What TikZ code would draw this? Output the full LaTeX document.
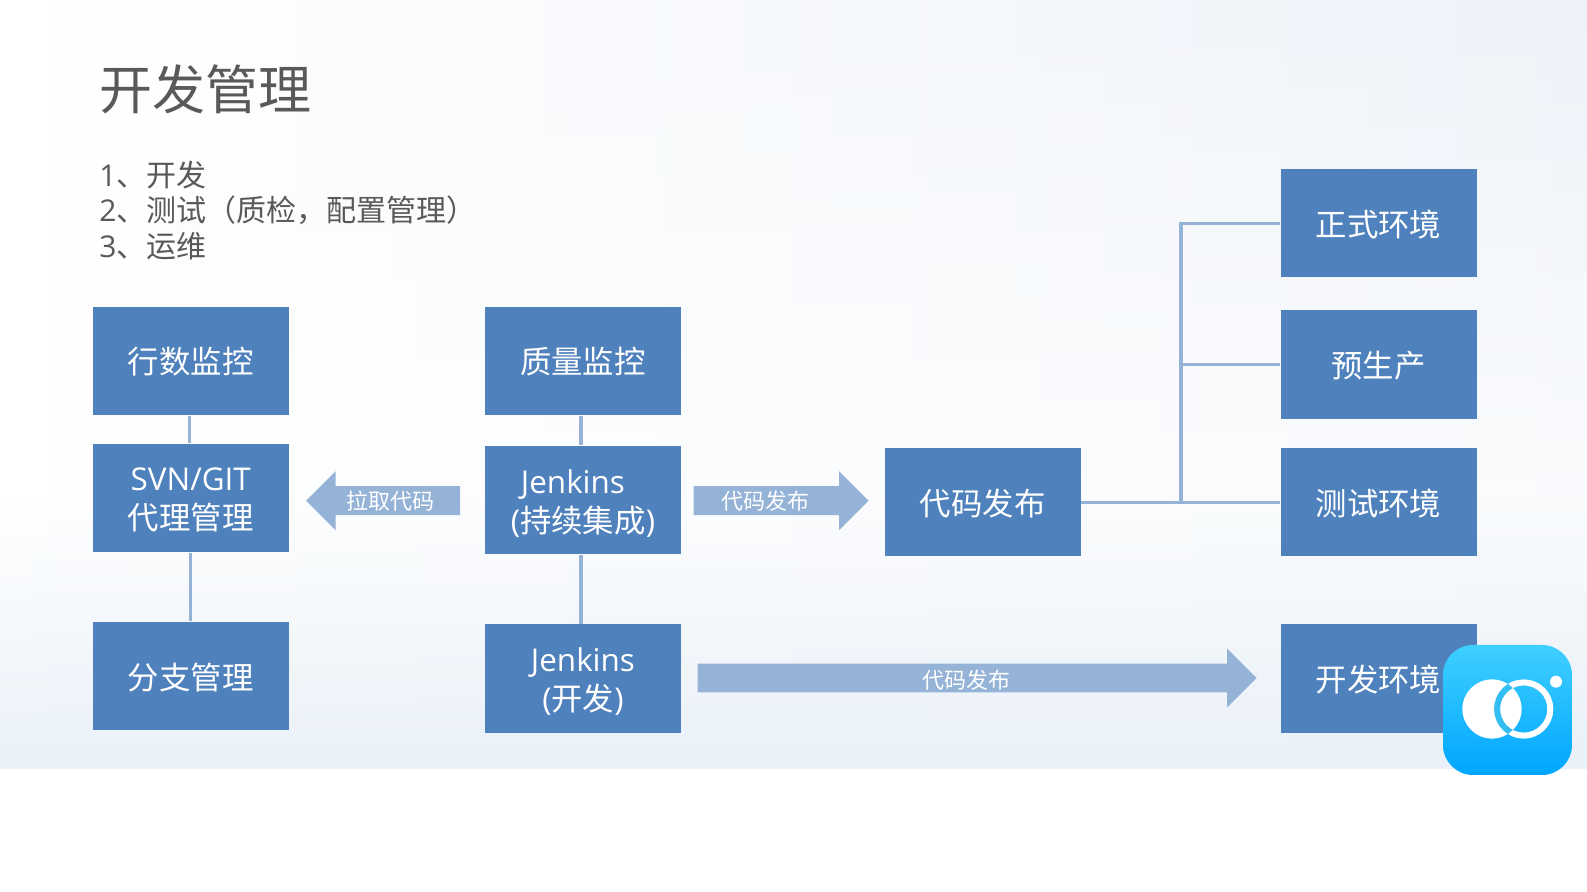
\documentclass[tikz,border=0pt]{standalone}
\usepackage{fontspec}
\setmainfont{Open Sans}
\newfontfamily\cjk{Noto Sans CJK SC}
\usetikzlibrary{shapes.arrows,fadings}
\definecolor{boxblue}{HTML}{4F81BD}
\definecolor{lineblue}{HTML}{95B3D7}
\definecolor{greytext}{HTML}{595959}
\definecolor{bgright}{HTML}{EDF2F9}
\definecolor{bgbottom}{HTML}{EAF1F9}
\renewcommand{\arraystretch}{1.03}
\newcommand{\twolines}[3]{\raisebox{#1}[\height][\depth]{\begin{tabular}{@{}c@{}}#2\\#3\end{tabular}}}
\begin{document}
\begin{tikzpicture}[x=0.5pt, y=-0.5pt,
    main/.style = {draw=none, fill=boxblue, text=white, minimum width=98pt, minimum height=54.3pt, inner sep=0pt, align=center, font=\fontsize{15.7}{19}\selectfont, execute at begin node=\rule{0pt}{14.2pt}},
    twoline/.style = {execute at begin node={}},
    link/.style = {draw=lineblue, line width=1.6pt},
    bigarrow/.style = {single arrow, fill=lineblue, text=white, inner sep=0pt, minimum width=29.5pt, single arrow head extend=5.5pt, font=\fontsize{11}{13}\selectfont\cjk}]
    % Sfondo
    \useasboundingbox (0,0) rectangle (1587,892);
    \shade[left color=white, right color=bgright] (-10,-10) rectangle (1597,769);
    \fill[white, opacity=0.7, path fading=north] (-10,-10) rectangle (1597,500);
    \fill[white, opacity=0.7] (-10,500) rectangle (1597,769);
    \fill[bgbottom, path fading=north] (-10,500) rectangle (1597,769);

    % Titolo ed elenco
    \node[text=greytext, anchor=west, inner sep=0pt, font=\fontsize{26.5}{32}\selectfont\cjk] (title) at (99,89) {开发管理};
    \node[text=greytext, anchor=west, inner sep=0pt, align=left, font=\fontsize{15}{17.7}\selectfont] (list) at (99,210.5) {1{\cjk 、开发}\\2{\cjk 、测试（质检，配置管理）}\\3{\cjk 、运维}};

    % Disegna i nodi
    \node[main] (hangshu) at (190.75,361) {\cjk 行数监控};
    \node[main, twoline] (svn) [below of=hangshu, node distance=68.5pt] {\twolines{-2pt}{SVN/GIT}{\cjk 代理管理}};
    \node[main] (branch) [below of=svn, node distance=89.1pt] {\cjk 分支管理};
    \node[main] (quality) [right of=hangshu, node distance=196.1pt] {\cjk 质量监控};
    \node[main, twoline] (jenkins) [below of=quality, node distance=69.6pt] {\twolines{-2.4pt}{Jenkins\hspace*{10pt}}{({\cjk 持续集成})}};
    \node[main, twoline] (jenkinsdev) [below of=jenkins, node distance=89.25pt] {\twolines{-2.2pt}{Jenkins}{({\cjk 开发})}};
    \node[main] (release) [right of=jenkins, node distance=199.9pt, yshift=-1pt] {\cjk 代码发布};
    \node[main] (testenv) [right of=release, node distance=197.9pt] {\cjk 测试环境};
    \node[main] (preprod) [above of=testenv, node distance=68.9pt] {\cjk 预生产};
    \node[main] (prod) [above of=preprod, node distance=70.6pt] {\cjk 正式环境};
    \node[main] (devenv) [below of=testenv, node distance=88.25pt] {\cjk 开发环境};
    \coordinate[right of=release, node distance=99.1pt] (fork);

    % Disegna i collegamenti
    \draw[link] ([xshift=-0.6pt]hangshu.south) -- ([xshift=-0.6pt]svn.north);
    \draw[link] (svn) -- (branch);
    \draw[link] ([xshift=-1pt]quality.south) -- ([xshift=-1pt]jenkins.north);
    \draw[link] ([xshift=-1pt]jenkins.south) -- ([xshift=-1pt]jenkinsdev.north);
    \draw[link] (release) -- (testenv);
    \draw[link] (fork) |- (prod);
    \draw[link] (fork) |- (preprod);

    % Frecce con testo
    \node[bigarrow, anchor=tip, shape border rotate=180, minimum height=77pt] (pull) at (305.6,500.7) {拉取代码};
    \node[bigarrow, anchor=tail, minimum height=87.5pt] (push) at (693.2,500.7) {代码发布\hspace*{8pt}};
    \node[bigarrow, anchor=tail, minimum height=279.5pt] (pushdev) at (697.3,678) {\raisebox{-1pt}[\height][\depth]{代码发布}\hspace*{3pt}};

    % Icona
    \shade[top color=cyan!75!blue!75, middle color=cyan!100!blue!80!blue, bottom color=blue!35!cyan, rounded corners=15pt] (1443,645) rectangle (1572,775);
    \fill[white] (1492,709) circle (14.8pt);
    \draw[white, line width=3pt] (1523.7,709) circle (13.3pt);
    \begin{scope}
        \clip (1492,709) circle (14.8pt);
        \draw[cyan!100!blue!80, line width=3pt] (1523.7,709) circle (13.3pt);
    \end{scope}
    \fill[white] (1556,681.7) circle (3pt);

\end{tikzpicture}
\end{document}
